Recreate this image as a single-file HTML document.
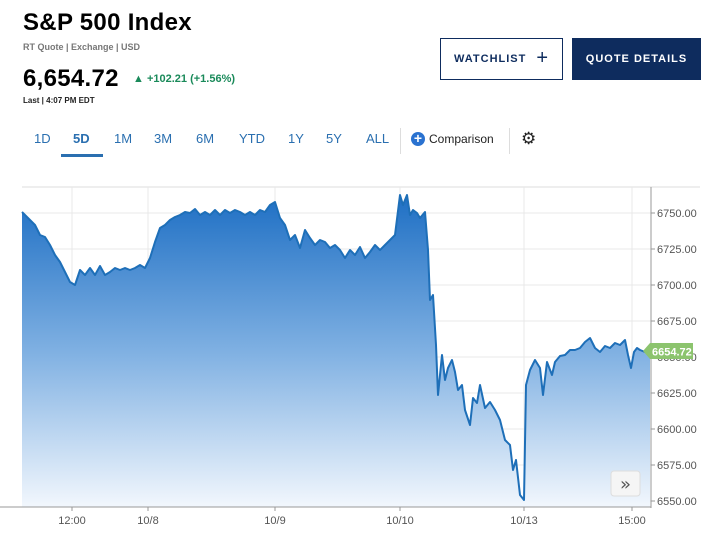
<!DOCTYPE html>
<html><head><meta charset="utf-8"><style>
body{margin:0;width:717px;height:540px;background:#fff;font-family:"Liberation Sans",sans-serif;position:relative;overflow:hidden}
.a{position:absolute;white-space:nowrap}
.tab{position:absolute;top:131px;font-size:13px;color:#2a6fb0}
</style></head><body>
<div class="a" style="left:23px;top:9px;font-size:24px;font-weight:bold;color:#000;letter-spacing:0.3px">S&amp;P 500 Index</div>
<div class="a" style="left:23px;top:42px;font-size:9px;font-weight:bold;color:#777">RT Quote | Exchange | USD</div>
<div class="a" style="left:23px;top:65px;font-size:24px;font-weight:bold;color:#000;letter-spacing:0.3px">6,654.72</div>
<div class="a" style="left:133px;top:73px;font-size:11px;font-weight:bold;color:#1a8a5a">▲ +102.21 (+1.56%)</div>
<div class="a" style="left:23px;top:96px;font-size:8px;font-weight:bold;color:#222">Last | 4:07 PM EDT</div>
<div class="a" style="left:440px;top:38px;width:123px;height:42px;border:1.5px solid #0e2c5e;box-sizing:border-box;font-size:11px;font-weight:bold;color:#0e2c5e;line-height:39px;letter-spacing:1px;padding-left:13px">WATCHLIST <span style="font-size:20px;font-weight:normal;vertical-align:-2px;margin-left:6px">+</span></div>
<div class="a" style="left:572px;top:38px;width:129px;height:42px;background:#0e2c5e;color:#fff;font-size:11px;font-weight:bold;line-height:42px;text-align:center;letter-spacing:1px">QUOTE DETAILS</div>
<div class="tab" style="left:34px">1D</div>
<div class="tab" style="left:73px;font-weight:bold">5D</div>
<div style="position:absolute;left:61px;top:154px;width:42px;height:3px;background:#2a6fb0"></div>
<div class="tab" style="left:114px">1M</div>
<div class="tab" style="left:154px">3M</div>
<div class="tab" style="left:196px">6M</div>
<div class="tab" style="left:239px">YTD</div>
<div class="tab" style="left:288px">1Y</div>
<div class="tab" style="left:326px">5Y</div>
<div class="tab" style="left:366px">ALL</div>
<div style="position:absolute;left:400px;top:128px;width:1px;height:26px;background:#ddd"></div>
<div class="a" style="left:411px;top:132px;width:14px;height:14px;border-radius:50%;background:#2a72d0;color:#fff;font-size:14px;line-height:13px;text-align:center;font-weight:bold">+</div>
<div class="a" style="left:429px;top:132px;font-size:12px;color:#222">Comparison</div>
<div style="position:absolute;left:509px;top:128px;width:1px;height:26px;background:#ddd"></div>
<div class="a" style="left:521px;top:129px;font-size:17px;color:#222">⚙</div>
<svg style="position:absolute;left:0;top:0" width="717" height="540">
<defs><linearGradient id="g" gradientUnits="userSpaceOnUse" x1="0" y1="195" x2="0" y2="507"><stop offset="0" stop-color="#1e6fc4"/><stop offset="0.5" stop-color="#7fb0e2"/><stop offset="1" stop-color="#f2f7fd"/></linearGradient></defs>
<line x1="22" y1="187" x2="700" y2="187" stroke="#ddd"/>
<g stroke="#e8e8e8">
<line x1="22" y1="213" x2="651" y2="213"/><line x1="22" y1="249" x2="651" y2="249"/><line x1="22" y1="285" x2="651" y2="285"/><line x1="22" y1="321" x2="651" y2="321"/><line x1="22" y1="357" x2="651" y2="357"/><line x1="22" y1="393" x2="651" y2="393"/><line x1="22" y1="429" x2="651" y2="429"/><line x1="22" y1="465" x2="651" y2="465"/><line x1="22" y1="501" x2="651" y2="501"/>
<line x1="72" y1="187" x2="72" y2="507"/><line x1="148" y1="187" x2="148" y2="507"/><line x1="275" y1="187" x2="275" y2="507"/><line x1="400" y1="187" x2="400" y2="507"/><line x1="524" y1="187" x2="524" y2="507"/><line x1="632" y1="187" x2="632" y2="507"/>
</g>
<path id="ln" d="M22,212 L28,218 35,225 40,235 45,237 50,245 55,255 60,262 65,272 70,282 75,285 80,270 85,275 90,268 95,275 100,266 105,275 110,272 115,268 120,270 125,268 130,270 135,268 140,265 145,268 150,258 155,242 160,228 165,225 170,220 175,217 180,215 185,212 190,213 195,209 200,215 205,212 210,215 215,210 220,215 225,210 230,213 235,210 240,212 245,215 250,212 255,215 260,210 265,212 270,205 275,202 280,218 285,225 290,240 295,235 300,248 305,230 310,238 315,245 320,240 325,242 330,248 335,245 340,250 345,258 350,250 355,255 360,247 365,258 370,252 375,245 380,250 385,245 390,240 395,235 400,195 403,205 407,195 410,215 413,210 417,213 420,218 425,212 428,250 430,300 433,295 436,345 438,395 442,355 445,380 448,368 452,360 455,372 458,390 462,385 465,410 470,425 473,398 477,403 480,385 485,408 490,402 495,410 500,420 505,440 510,445 513,470 516,460 520,495 524,500 526,385 530,370 535,360 540,368 543,395 547,362 552,375 555,362 560,356 565,355 570,350 575,350 580,348 585,342 590,338 595,348 600,352 605,346 610,348 615,343 620,345 625,340 628,355 631,368 634,352 637,348 640,350 645,352 650,350" fill="none" stroke="none"/>
<path d="M22,212 L28,218 35,225 40,235 45,237 50,245 55,255 60,262 65,272 70,282 75,285 80,270 85,275 90,268 95,275 100,266 105,275 110,272 115,268 120,270 125,268 130,270 135,268 140,265 145,268 150,258 155,242 160,228 165,225 170,220 175,217 180,215 185,212 190,213 195,209 200,215 205,212 210,215 215,210 220,215 225,210 230,213 235,210 240,212 245,215 250,212 255,215 260,210 265,212 270,205 275,202 280,218 285,225 290,240 295,235 300,248 305,230 310,238 315,245 320,240 325,242 330,248 335,245 340,250 345,258 350,250 355,255 360,247 365,258 370,252 375,245 380,250 385,245 390,240 395,235 400,195 403,205 407,195 410,215 413,210 417,213 420,218 425,212 428,250 430,300 433,295 436,345 438,395 442,355 445,380 448,368 452,360 455,372 458,390 462,385 465,410 470,425 473,398 477,403 480,385 485,408 490,402 495,410 500,420 505,440 510,445 513,470 516,460 520,495 524,500 526,385 530,370 535,360 540,368 543,395 547,362 552,375 555,362 560,356 565,355 570,350 575,350 580,348 585,342 590,338 595,348 600,352 605,346 610,348 615,343 620,345 625,340 628,355 631,368 634,352 637,348 640,350 645,352 650,350 L650,507 L22,507 Z" fill="url(#g)"/>
<use href="#ln" fill="none" stroke="#1e6fb8" stroke-width="2" stroke-linejoin="round"/>
<path d="M22,212 L28,218 35,225 40,235 45,237 50,245 55,255 60,262 65,272 70,282 75,285 80,270 85,275 90,268 95,275 100,266 105,275 110,272 115,268 120,270 125,268 130,270 135,268 140,265 145,268 150,258 155,242 160,228 165,225 170,220 175,217 180,215 185,212 190,213 195,209 200,215 205,212 210,215 215,210 220,215 225,210 230,213 235,210 240,212 245,215 250,212 255,215 260,210 265,212 270,205 275,202 280,218 285,225 290,240 295,235 300,248 305,230 310,238 315,245 320,240 325,242 330,248 335,245 340,250 345,258 350,250 355,255 360,247 365,258 370,252 375,245 380,250 385,245 390,240 395,235 400,195 403,205 407,195 410,215 413,210 417,213 420,218 425,212 428,250 430,300 433,295 436,345 438,395 442,355 445,380 448,368 452,360 455,372 458,390 462,385 465,410 470,425 473,398 477,403 480,385 485,408 490,402 495,410 500,420 505,440 510,445 513,470 516,460 520,495 524,500 526,385 530,370 535,360 540,368 543,395 547,362 552,375 555,362 560,356 565,355 570,350 575,350 580,348 585,342 590,338 595,348 600,352 605,346 610,348 615,343 620,345 625,340 628,355 631,368 634,352 637,348 640,350 645,352 650,350" fill="none" stroke="#1e6fb8" stroke-width="2" stroke-linejoin="round"/>
<line x1="651" y1="187" x2="651" y2="508" stroke="#999"/>
<line x1="0" y1="507" x2="651" y2="507" stroke="#999"/>
<g stroke="#999"><line x1="72" y1="507" x2="72" y2="511"/><line x1="148" y1="507" x2="148" y2="511"/><line x1="275" y1="507" x2="275" y2="511"/><line x1="400" y1="507" x2="400" y2="511"/><line x1="524" y1="507" x2="524" y2="511"/><line x1="632" y1="507" x2="632" y2="511"/>
<line x1="651" y1="213" x2="655" y2="213"/><line x1="651" y1="249" x2="655" y2="249"/><line x1="651" y1="285" x2="655" y2="285"/><line x1="651" y1="321" x2="655" y2="321"/><line x1="651" y1="357" x2="655" y2="357"/><line x1="651" y1="393" x2="655" y2="393"/><line x1="651" y1="429" x2="655" y2="429"/><line x1="651" y1="465" x2="655" y2="465"/><line x1="651" y1="501" x2="655" y2="501"/></g>
<g font-family="Liberation Sans" font-size="11" fill="#555">
<text x="657" y="217">6750.00</text><text x="657" y="253">6725.00</text><text x="657" y="289">6700.00</text><text x="657" y="325">6675.00</text><text x="657" y="361">6650.00</text><text x="657" y="397">6625.00</text><text x="657" y="433">6600.00</text><text x="657" y="469">6575.00</text><text x="657" y="505">6550.00</text>
<g text-anchor="middle"><text x="72" y="524">12:00</text><text x="148" y="524">10/8</text><text x="275" y="524">10/9</text><text x="400" y="524">10/10</text><text x="524" y="524">10/13</text><text x="632" y="524">15:00</text></g>
</g>
<path d="M643,351 L650,343 L693,343 L693,359 L650,359 Z" fill="#8cc46e"/>
<text x="652" y="355.5" font-family="Liberation Sans" font-size="11" fill="#fff" font-weight="bold">6654.72</text>
<rect x="611" y="471" width="29" height="25" rx="3" fill="#f5f5f5" stroke="#ddd"/>
<text x="625.5" y="490" text-anchor="middle" font-family="DejaVu Sans" font-size="18" fill="#555">»</text>
</svg>
</body></html>
